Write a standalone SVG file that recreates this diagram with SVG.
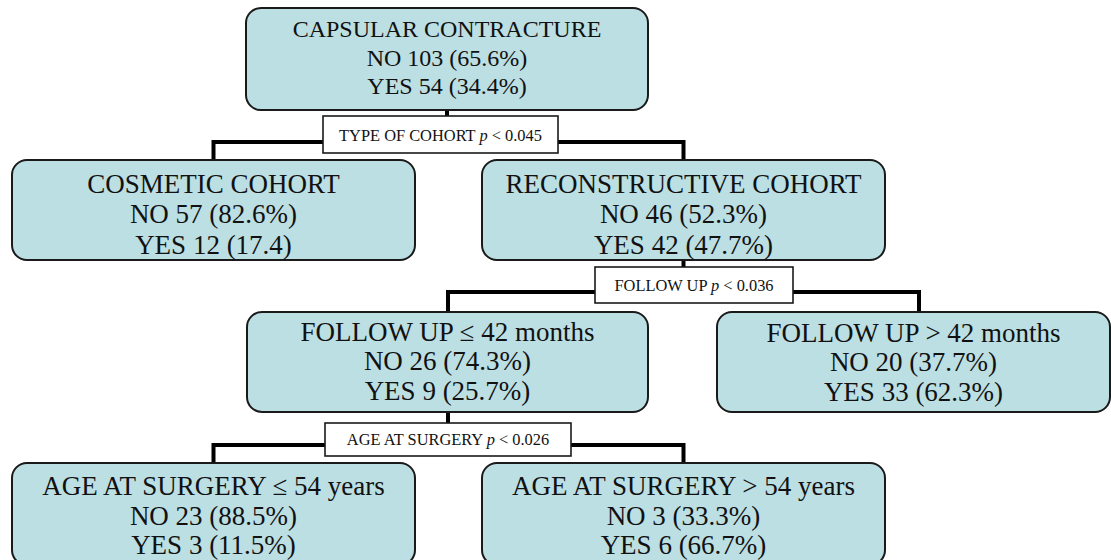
<svg xmlns="http://www.w3.org/2000/svg" width="1111" height="560" viewBox="0 0 1111 560">
<style>
.node{fill:#bcdfe3;stroke:#1a1a1a;stroke-width:2}
.lbl{fill:#ffffff;stroke:#1a1a1a;stroke-width:1.6}
.t{fill:#111;text-anchor:middle}
.big{font-size:27px}
.root{font-size:24px}
.small{font-size:16.4px}
.conn{fill:none;stroke:#000;stroke-width:4}
</style>
<defs>
<clipPath id="c1"><rect x="12" y="160" width="403" height="100" rx="15"/></clipPath>
<clipPath id="c2"><rect x="482" y="160" width="403" height="100" rx="15"/></clipPath>
<clipPath id="c3"><rect x="247" y="312" width="401" height="100" rx="15"/></clipPath>
<clipPath id="c4"><rect x="717" y="312" width="393" height="100" rx="15"/></clipPath>
</defs>
<rect width="1111" height="560" fill="#ffffff"/>
<g id="connectors">
<path class="conn" d="M447,110 V142 M213.5,160 V142 H683.5 V160"/>
<path class="conn" d="M683.5,260 V292 M448,312 V292 H919 V312"/>
<path class="conn" d="M448,412 V445 M213.5,463 V445 H683.5 V463"/>
</g>
<g font-family="Liberation Serif, DejaVu Serif, serif">
<g id="root">
<rect class="node" x="246" y="8" width="402" height="102" rx="15"/>
<text class="t root" x="447" y="37">CAPSULAR CONTRACTURE</text>
<text class="t root" x="447" y="66">NO 103 (65.6%)</text>
<text class="t root" x="447" y="94">YES 54 (34.4%)</text>
</g>
<g id="label-cohort">
<rect class="lbl" x="323" y="116" width="235" height="37"/>
<text class="t small" x="440.5" y="141">TYPE OF COHORT <tspan font-style="italic">p</tspan> &lt; 0.045</text>
</g>
<g id="cosmetic">
<rect class="node" x="12" y="160" width="403" height="100" rx="15"/>
<g clip-path="url(#c1)">
<text class="t big" x="213.5" y="193">COSMETIC COHORT</text>
<text class="t big" x="213.5" y="223">NO 57 (82.6%)</text>
<text class="t big" x="213.5" y="254">YES 12 (17.4)</text>
</g>
</g>
<g id="reconstructive">
<rect class="node" x="482" y="160" width="403" height="100" rx="15"/>
<g clip-path="url(#c2)">
<text class="t big" x="683.5" y="193">RECONSTRUCTIVE COHORT</text>
<text class="t big" x="683.5" y="223">NO 46 (52.3%)</text>
<text class="t big" x="683.5" y="254">YES 42 (47.7%)</text>
</g>
</g>
<g id="label-followup">
<rect class="lbl" x="595" y="267" width="198" height="36"/>
<text class="t small" x="694" y="291">FOLLOW UP <tspan font-style="italic">p</tspan> &lt; 0.036</text>
</g>
<g id="followup-le">
<rect class="node" x="247" y="312" width="401" height="100" rx="15"/>
<g clip-path="url(#c3)">
<text class="t big" x="447.5" y="341">FOLLOW UP ≤ 42 months</text>
<text class="t big" x="447.5" y="370">NO 26 (74.3%)</text>
<text class="t big" x="447.5" y="400">YES 9 (25.7%)</text>
</g>
</g>
<g id="followup-gt">
<rect class="node" x="717" y="312" width="393" height="100" rx="15"/>
<g clip-path="url(#c4)">
<text class="t big" x="913.5" y="342">FOLLOW UP &gt; 42 months</text>
<text class="t big" x="913.5" y="371">NO 20 (37.7%)</text>
<text class="t big" x="913.5" y="401">YES 33 (62.3%)</text>
</g>
</g>
<g id="label-age">
<rect class="lbl" x="325" y="423" width="246" height="33"/>
<text class="t small" x="448" y="445">AGE AT SURGERY <tspan font-style="italic">p</tspan> &lt; 0.026</text>
</g>
<g id="age-le">
<rect class="node" x="12" y="463" width="403" height="102" rx="15"/>
<text class="t big" x="213.5" y="495">AGE AT SURGERY ≤ 54 years</text>
<text class="t big" x="213.5" y="525">NO 23 (88.5%)</text>
<text class="t big" x="213.5" y="554">YES 3 (11.5%)</text>
</g>
<g id="age-gt">
<rect class="node" x="482" y="463" width="403" height="102" rx="15"/>
<text class="t big" x="683.5" y="495">AGE AT SURGERY &gt; 54 years</text>
<text class="t big" x="683.5" y="525">NO 3 (33.3%)</text>
<text class="t big" x="683.5" y="554">YES 6 (66.7%)</text>
</g>
</g>
</svg>
